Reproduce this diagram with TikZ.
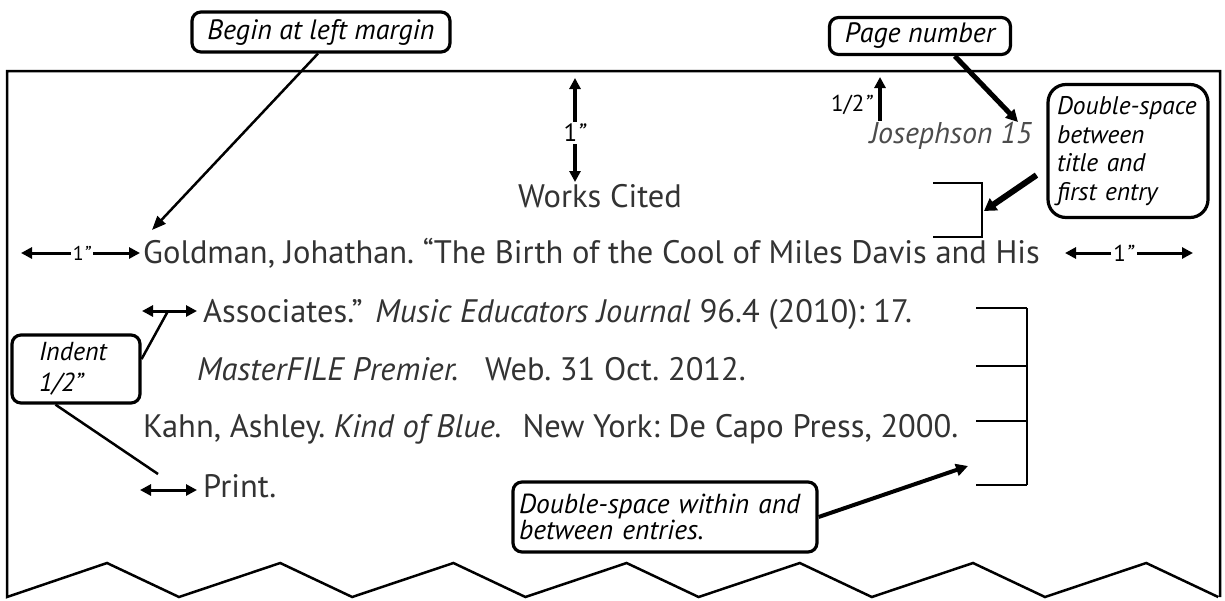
\documentclass[tikz,border=0pt]{standalone}
\usepackage{fontspec}
\setmainfont{PT Sans}
\usetikzlibrary{arrows.meta,positioning,calc}
\frenchspacing

\begin{document}
\begin{tikzpicture}[x = 1pt, y = -1pt,
  page text/.style={anchor=base west, inner sep=0pt, text=black!80, font=\fontsize{32.5}{38}\selectfont},
  callout/.style={draw, line width=3.2pt, rounded corners=9pt, font=\fontsize{28}{32}\selectfont\itshape, inner sep=0pt},
  dim/.style={line width=3pt, {Triangle[length=11pt,width=11pt]}-{Triangle[length=11pt,width=11pt]}},
  oneway/.style={line width=3pt, -{Triangle[length=11pt,width=11pt]}},
  dimlabel/.style={inner sep=2pt, font=\fontsize{23}{26}\selectfont}]
\useasboundingbox (0,0) rectangle (1225,600);
% Page with torn bottom edge
\draw[line width=2.5pt, line join=miter] (1220,597) -- (1220,71) -- (7,71) -- (7,597)
  \foreach \i in {0,...,6} { -- ({107+173.2*\i},563) -- ({179+173.2*\i},597) };
% Header and title
\node[page text, anchor=base east, font=\fontsize{30}{34}\selectfont\itshape, text=black!70] (header) at (1032,143) {Josephson 15};
\node[page text, anchor=base] (title) at (600,207) {Works Cited};
% Entries
\node[page text] (lineA) at (143,263) {Goldman, Johathan. ``The Birth of the Cool of Miles Davis and His};
\node[page text] (lineB) at (203,322) {Associates.''\hspace{4pt} \textit{Music Educators Journal} 96.4 (2010): 17.};
\node[page text] (lineC) at (197,380) {\textit{MasterFILE Premier.}\hspace{18pt} Web. 31 Oct. 2012.};
\node[page text] (lineD) at (143,437) {Kahn, Ashley. \textit{Kind of Blue.}\hspace{12pt} New York: De Capo Press, 2000.};
\node[page text] (lineE) at (203,497) {Print.};
% Margins
\node[dimlabel, font=\fontsize{25}{28}\selectfont] (topin) at (575,133) {1\textit{"}};
\draw[oneway, line width=4pt] (topin) -- (575,78);
\draw[oneway, line width=4pt] (topin) -- (575,182);
\node[dimlabel] (halfin) at (852,105) {1/2\textit{"}};
\draw[oneway, line width=3.5pt] (880,121) -- (880,77);
\node[dimlabel, font=\fontsize{20}{24}\selectfont] (leftin) at (82,253) {1\textit{"}};
\draw[oneway] (leftin) -- (21,253);
\draw[oneway] (leftin) -- (140,253);
\node[dimlabel] (rightin) at (1124,253) {1\textit{"}};
\draw[oneway] (rightin) -- (1065,253);
\draw[oneway] (rightin) -- (1193,253);
% Hanging indents
\coordinate (indB) at (168,311);
\coordinate (indE) at (158,474);
\draw[dim] (142,311) -- (197,311);
\draw[dim] (140,490) -- (197,490);
% Brackets
\draw[line width=2.5pt] (933,183) -- (982,183) -- (982,237) -- (933,237);
\coordinate (brA) at (984,211);
\draw[line width=2.5pt] (1027,308) -- (1027,485);
\foreach \y in {308,366,421,485}
  \draw[line width=2.5pt] (976,\y) -- (1027,\y);
\coordinate (brB) at (968,466);
% Callouts
\node[callout, minimum width=258pt, minimum height=40pt] (begin) at (321,32) {Begin at left margin};
\coordinate (beginTip) at (152,230);
\draw[line width=2.5pt, -{Triangle[length=14pt,width=11pt]}] (begin.-98) -- (beginTip);
\node[callout, minimum width=181pt, minimum height=37pt] (pagenum) at (920,36) {Page number};
\coordinate (pagenumTip) at (1018,122);
\draw[line width=5pt, -{Triangle[length=12pt,width=12pt]}] (pagenum.-30) -- (pagenumTip);
\node[callout, text width=142pt, inner xsep=9pt, align=left, minimum height=133pt,
  rounded corners=18pt, font=\fontsize{25.5}{28.5}\selectfont\itshape] (dstitle) at (1128,151) {Double-space\\between\\title and\\first entry};
\draw[line width=6pt, -{Triangle[length=12pt,width=14pt]}, shorten <=12pt] (dstitle.-168) -- (brA);
\node[callout, text width=74pt, inner xsep=27pt, align=left, minimum height=68pt,
  font=\fontsize{26}{31}\selectfont\itshape] (indent) at (76,369) {Indent\\1/2"};
\draw[line width=2.5pt] (indent.east) ++(0,-10) -- (indB);
\draw[line width=2.5pt] (indent.-120) -- (indE);
\node[callout, text width=292pt, inner xsep=6pt, align=left, minimum height=70pt,
  font=\fontsize{27.5}{26}\selectfont\itshape] (dsentries) at (665,517) {Double-space within and\\between entries.};
\draw[line width=4pt, -{Triangle[length=12pt,width=12pt]}] (dsentries.east) -- (brB);
\end{tikzpicture}
\end{document}
